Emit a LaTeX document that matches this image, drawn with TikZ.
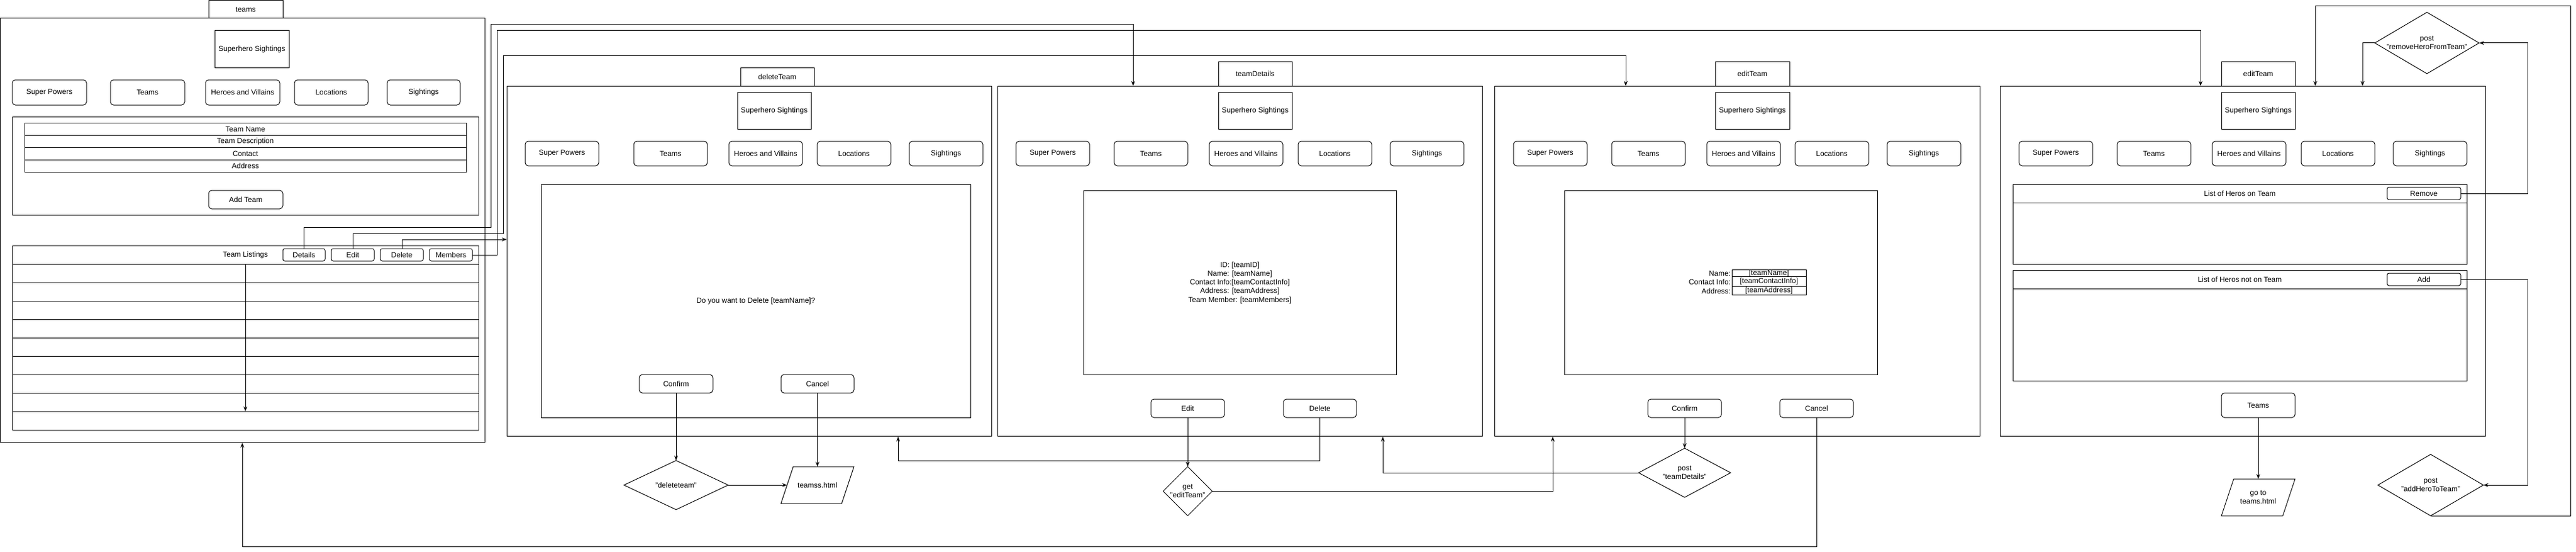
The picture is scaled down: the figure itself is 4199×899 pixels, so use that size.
\documentclass[tikz,border=0pt]{standalone}
\usepackage{fontspec}
\setmainfont{Liberation Sans}
\usetikzlibrary{shapes.geometric,arrows.meta}
\newcommand{\bx}[7]{\node[#1,minimum width={#5-#3},minimum height={#6-#4}] (#2) at ({(#3+#5)/2},{(#4+#6)/2}) {#7};}
\newcommand{\navbar}[8]{%
  \bx{btn}{#1sp}{#4}{#2}{#4+120}{#3}{Super Powers}
  \bx{btn}{#1tm}{#5}{#2}{#5+120}{#3}{Teams}
  \bx{btn}{#1hv}{#6}{#2}{#6+120}{#3}{Heroes and Villains}
  \bx{btn}{#1lc}{#7}{#2}{#7+120}{#3}{Locations}
  \bx{btn}{#1sg}{#8}{#2}{#8+120}{#3}{Sightings}}
\begin{document}
\begin{tikzpicture}[x=1pt,y=-1pt,
  every node/.style={inner sep=0pt,outer sep=0pt,font=\fontsize{12}{14.3}\selectfont},
  box/.style={draw,rectangle,line width=1pt},
  btn/.style={draw,rectangle,rounded corners=5pt,line width=1pt},
  sbtn/.style={draw,rectangle,rounded corners=3pt,line width=1pt},
  conn/.style={draw,line width=1pt,-{Stealth[length=8pt,width=6pt]}},
  plain/.style={draw,line width=1pt},
  dia/.style={draw,diamond,line width=1pt},
  paratext/.style={rectangle,align=center}]
\useasboundingbox (0,0) rectangle (4199,899);

% ---------------- teams page ----------------
\bx{box}{tTab}{340}{1}{461}{30}{teams}
\bx{box}{tFrame}{0.5}{30}{790}{720}{}
\bx{box}{tSS}{350}{50}{471}{110}{Superhero Sightings}
\bx{btn}{tsp}{20}{130}{141}{171}{Super Powers}
\bx{btn}{ttm}{180}{130}{301}{171}{Teams}
\bx{btn}{thv}{335}{130}{456}{171}{Heroes and Villains}
\bx{btn}{tlc}{480}{130}{600}{171}{Locations}
\bx{btn}{tsg}{631}{130}{750}{171}{Sightings}
\bx{box}{tForm}{20}{190}{780}{350}{}
\bx{box}{tF1}{40}{200}{760}{220}{Team Name}
\bx{box}{tF2}{40}{220}{760}{240}{Team Description}
\bx{box}{tF3}{40}{240}{760}{260}{Contact}
\bx{box}{tF4}{40}{260}{760}{280}{Address}
\bx{btn}{tAdd}{340}{310}{461}{340}{Add Team}
\bx{box}{tList}{20}{400}{780}{700}{}
\foreach \yy in {430,460,...,670} {\draw[plain] (20,\yy) -- (780,\yy);}
\node (tListTitle) at (400,415) {Team Listings};
\bx{sbtn}{tDet}{461}{405}{530}{425}{Details}
\bx{sbtn}{tEdit}{540}{405}{610}{425}{Edit}
\bx{sbtn}{tDel}{620}{405}{690}{425}{Delete}
\bx{sbtn}{tMem}{700}{405}{770}{425}{Members}
\coordinate (lsTop) at (400,430);
\coordinate (lsBot) at (400,670);
\draw[conn] (lsTop) -- (lsBot);

% ---------------- deleteTeam page ----------------
\bx{box}{dTab}{1207}{110}{1327}{140}{deleteTeam}
\bx{box}{dFrame}{826}{140}{1616}{710}{}
\bx{box}{dSS}{1202}{150}{1322}{210}{Superhero Sightings}
\navbar{d}{230}{270}{856}{1033}{1188}{1332}{1482}
\bx{box}{dInner}{882}{300}{1582}{680}{}
\node (dQ) at (1232,490) {Do you want to Delete [teamName]?};
\bx{btn}{dConf}{1042}{610}{1162}{640}{Confirm}
\bx{btn}{dCanc}{1273}{610}{1392}{640}{Cancel}
\node[dia,minimum width=170,minimum height=80,label={[align=center]center:{"deleteteam"}}] (dDia) at (1102,790) {};
\node[paratext,minimum width=99,minimum height=60] (dPar) at (1332.5,790) {teamss.html};
\draw[plain] ([xshift=-10]dPar.south west) -- ([xshift=10]dPar.north west) -- ([xshift=10]dPar.north east) -- ([xshift=-10]dPar.south east) -- cycle;
\draw[conn] (dConf.south) -- (dDia.north);
\draw[conn] (dCanc.south) -- (dPar.north);
\draw[conn] (dDia.east) -- (dPar.west);

% ---------------- teamDetails page ----------------
\bx{box}{sTab}{1986}{100}{2106}{140}{teamDetails}
\bx{box}{sFrame}{1626}{140}{2416}{710}{}
\bx{box}{sSS}{1986}{150}{2106}{210}{Superhero Sightings}
\navbar{s}{230}{270}{1656}{1816}{1971}{2116}{2266}
\bx{box}{sInner}{1766}{310}{2276}{610}{}
\node[align=center] (sInfo) at (2021,460.5) {ID: [teamID]\\Name: [teamName]\\Contact Info:[teamContactInfo]\\Address: [teamAddress]\\Team Member: [teamMembers]};
\bx{btn}{sEdit}{1876}{650}{1996}{680}{Edit}
\bx{btn}{sDel}{2092}{650}{2211}{680}{Delete}
\node[dia,minimum width=80,minimum height=80,label={[align=center]center:{get\\"editTeam"}}] (gDia) at (1936,800) {};
\coordinate (dBotIn) at (1464,711);
\draw[conn] (sDel.south) -- (2151.5,750) -- (1464,750) -- (dBotIn);
\draw[conn] (sEdit.south) -- (gDia.north);

% ---------------- editTeam page ----------------
\bx{box}{eTab}{2796}{100}{2917}{140}{editTeam}
\bx{box}{eFrame}{2436}{140}{3227}{710}{}
\bx{box}{eSS}{2796}{150}{2917}{210}{Superhero Sightings}
\navbar{e}{230}{270}{2467}{2627}{2782}{2926}{3076}
\bx{box}{eInner}{2550}{310}{3060}{610}{}
\bx{box}{eName}{2823}{440}{2944}{450}{[teamName]}
\bx{box}{eCont}{2823}{450}{2944}{466}{[teamContactInfo]}
\bx{box}{eAddr}{2823}{466}{2944}{480}{[teamAddress]}
\node[anchor=east] (eNameL) at (2821,445) {Name:};
\node[anchor=east] (eContL) at (2821,459) {Contact Info:};
\node[anchor=east] (eAddrL) at (2821,474) {Address:};
\bx{btn}{eConf}{2686}{650}{2806}{680}{Confirm}
\bx{btn}{eCanc}{2901}{650}{3021}{680}{Cancel}
\node[dia,minimum width=150,minimum height=80,label={[align=center]center:{post\\"teamDetails"}}] (pDia) at (2746,770) {};
\coordinate (eBotIn) at (2531,711);
\coordinate (sBotIn) at (2254,711);
\coordinate (tBotIn) at (395,721);
\draw[conn] (gDia.east) -- (2531,800) -- (eBotIn);
\draw[conn] (eConf.south) -- (pDia.north);
\draw[conn] (pDia.west) -- (2254,770) -- (sBotIn);
\draw[conn] (eCanc.south) -- (2961,890) -- (395,890) -- (tBotIn);

% ---------------- editTeam (members) page ----------------
\bx{box}{mTab}{3621}{100}{3741}{140}{editTeam}
\bx{box}{mFrame}{3260}{140}{4051}{710}{}
\bx{box}{mSS}{3621}{150}{3741}{210}{Superhero Sightings}
\navbar{m}{230}{270}{3291}{3451}{3606}{3751}{3901}
\bx{box}{mOn}{3281}{300}{4021}{430}{}
\draw[plain] (3281,330) -- (4021,330);
\node (mOnT) at (3651,315) {List of Heros on Team};
\bx{sbtn}{mRem}{3891}{305}{4011}{325}{Remove}
\bx{box}{mOff}{3281}{440}{4021}{620}{}
\draw[plain] (3281,470) -- (4021,470);
\node (mOffT) at (3651,455) {List of Heros not on Team};
\bx{sbtn}{mAdd}{3891}{445}{4011}{465}{Add}
\bx{btn}{mTeams}{3621}{640}{3741}{680}{Teams}
\node[paratext,minimum width=100,minimum height=60] (mPar) at (3681,810) {go to\\teams.html};
\draw[plain] ([xshift=-10]mPar.south west) -- ([xshift=10]mPar.north west) -- ([xshift=10]mPar.north east) -- ([xshift=-10]mPar.south east) -- cycle;
\node[dia,minimum width=170,minimum height=100,label={[align=center]center:{post\\"removeHeroFromTeam"}}] (remDia) at (3956,70) {};
\node[dia,minimum width=172,minimum height=100,label={[align=center]center:{post\\"addHeroToTeam"}}] (addDia) at (3962,790) {};
\coordinate (mIn1) at (3851,140);
\coordinate (mIn2) at (3774,140);
\draw[conn] (mTeams.south) -- (mPar.north);
\draw[conn] (mRem.east) -- (4120,315) -- (4120,70) -- (remDia.east);
\draw[conn] (remDia.west) -- (3851,70) -- (mIn1);
\draw[conn] (mAdd.east) -- (4120,455) -- (4120,790) -- (addDia.east);
\draw[conn] (addDia.south) -- (4190,840) -- (4190,10) -- (3774,10) -- (mIn2);

% ---------------- links from the teams page ----------------
\coordinate (sTopIn) at (1847,140);
\coordinate (eTopIn) at (2650,140);
\coordinate (mTopIn) at (3587,140);
\coordinate (dLeftIn) at (826,390);
\draw[conn] (tDet.north) -- (495.5,370) -- (800,370) -- (800,40) -- (1847,40) -- (sTopIn);
\draw[conn] (tEdit.north) -- (575,380) -- (820,380) -- (820,90) -- (2650,90) -- (eTopIn);
\draw[conn] (tDel.north) -- (655,390) -- (dLeftIn);
\draw[conn] (tMem.east) -- (810,415) -- (810,50) -- (3587,50) -- (mTopIn);
\end{tikzpicture}
\end{document}
